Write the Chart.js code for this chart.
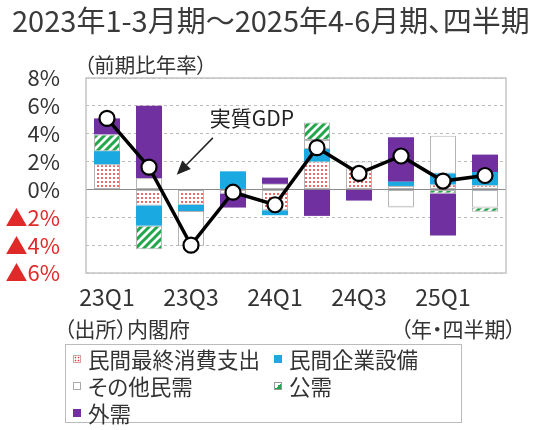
<!DOCTYPE html>
<html>
<head>
<meta charset="utf-8">
<script src="https://cdn.jsdelivr.net/npm/chart.js@4.4.1/dist/chart.umd.min.js"></script>
<style>
body { margin: 0; background: #fff; font-family: "Noto Sans CJK JP", sans-serif; color: #333; font-feature-settings: "palt"; }
#wrap { position: relative; width: 540px; height: 430px; overflow: hidden; }
#c { position: absolute; left: 0; top: 0; }
.t { position: absolute; white-space: nowrap; line-height: 1; }
#legend { position: absolute; left: 65px; top: 344px; width: 397px; height: 79px; border: 1px solid #bbb; box-sizing: border-box; }
.item { position: absolute; font-size: 21.5px; line-height: 1; white-space: nowrap; }
.icon { position: absolute; left: 0; top: 7px; width: 8px; height: 8px; box-sizing: border-box; }
.item span.lbl { position: absolute; left: 15px; top: 0; }
</style>
</head>
<body>
<div id="wrap">
  <canvas id="c" width="540" height="430"></canvas>
  <div class="t" style="left:12px;top:5px;font-size:29px;color:#3a3a3a">2023年1-3月期～2025年4-6月期、四半期</div>
  <div class="t" style="left:84px;top:54px;font-size:20.5px">（前期比年率）</div>
  <div class="t" style="left:64px;top:318px;font-size:21px">（出所）内閣府</div>
  <div class="t" style="right:24px;top:318px;font-size:21px">（年・四半期）</div>
  <div id="legend"></div>
</div>
<script>
// 四半期ラベル
const quarters = ['23Q1', '23Q2', '23Q3', '23Q4', '24Q1', '24Q2', '24Q3', '24Q4', '25Q1', '25Q2'];
// 寄与度（%ポイント）
const consumption = [1.8, -1.15, -1.1, 0, -1.5, 2.0, 1.5, 0.25, 0.35, 0.3];
const capex       = [0.95, -1.45, -0.45, 1.3, -0.35, 0.9, 0, 0.3, 0.8, 0.95];
const otherPriv   = [0, 0.8, -2.5, -0.3, 0.4, 0.65, 0.5, -1.25, 2.7, -1.3];
const publicDem   = [1.2, -1.7, 0, 0, 0, 1.25, 0, -0.05, -0.3, -0.3];
const external    = [1.15, 5.2, 0, -1.0, 0.45, -1.9, -0.8, 3.2, -3.0, 1.25];
// 実質GDP成長率
const realGdp     = [5.1, 1.6, -4.0, -0.2, -1.1, 3.0, 1.15, 2.4, 0.6, 1.0];
const seriesNames = ['民間最終消費支出', '民間企業設備', 'その他民需', '公需', '外需'];
const yTicks = [-6, -4, -2, 0, 2, 4, 6, 8];

const FONT = '"Noto Sans CJK JP", sans-serif';

function dotPattern() {
  const p = document.createElement('canvas');
  p.width = 4; p.height = 4;
  const g = p.getContext('2d');
  g.fillStyle = '#fff';
  g.fillRect(0, 0, 4, 4);
  g.fillStyle = '#e0383a';
  g.beginPath();
  g.arc(2, 2, 1.0, 0, Math.PI * 2);
  g.fill();
  return g.createPattern(p, 'repeat');
}

function stripePattern() {
  const s = 8;
  const p = document.createElement('canvas');
  p.width = s; p.height = s;
  const g = p.getContext('2d');
  g.fillStyle = '#fff';
  g.fillRect(0, 0, s, s);
  g.strokeStyle = '#22a64a';
  g.lineWidth = 3;
  g.beginPath();
  g.moveTo(0, s); g.lineTo(s, 0);
  g.moveTo(-s / 2, s / 2); g.lineTo(s / 2, -s / 2);
  g.moveTo(s / 2, s * 1.5); g.lineTo(s * 1.5, s / 2);
  g.stroke();
  return g.createPattern(p, 'repeat');
}

const blue = '#1ba9e1';
const purple = '#7030a0';
const edge = '#b4b4b4';

function barSet(label, data, fill, border) {
  return {
    type: 'bar',
    label: label,
    data: data,
    backgroundColor: fill,
    borderColor: edge,
    borderWidth: border ? 1 : 0,
    borderSkipped: false,
    categoryPercentage: 0.62,
    barPercentage: 1,
    order: 2
  };
}

const boxPlugin = {
  id: 'box',
  beforeDatasetsDraw(chart) {
    const { ctx, chartArea: a } = chart;
    ctx.save();
    ctx.strokeStyle = '#c4c4c4';
    ctx.lineWidth = 1.5;
    ctx.strokeRect(a.left, a.top, a.right - a.left, a.bottom - a.top);
    ctx.restore();
  }
};

const annotPlugin = {
  id: 'annot',
  afterDatasetsDraw(chart) {
    const { ctx, scales: { x, y } } = chart;
    ctx.save();
    ctx.fillStyle = '#222';
    ctx.font = '21px ' + FONT;
    ctx.textAlign = 'center';
    ctx.textBaseline = 'middle';
    ctx.fillText('実質GDP', x.getPixelForValue(3.45), y.getPixelForValue(5.1));

    const x0 = x.getPixelForValue(2.52), y0 = y.getPixelForValue(3.7);
    const x1 = x.getPixelForValue(1.66), y1 = y.getPixelForValue(1.05);
    const ang = Math.atan2(y1 - y0, x1 - x0);
    const len = 14, half = 6;
    const bx = x1 - len * Math.cos(ang), by = y1 - len * Math.sin(ang);
    ctx.strokeStyle = '#222';
    ctx.lineWidth = 1.5;
    ctx.beginPath();
    ctx.moveTo(x0, y0);
    ctx.lineTo(bx, by);
    ctx.stroke();
    ctx.beginPath();
    ctx.moveTo(x1, y1);
    ctx.lineTo(bx + half * Math.sin(ang), by - half * Math.cos(ang));
    ctx.lineTo(bx - half * Math.sin(ang), by + half * Math.cos(ang));
    ctx.closePath();
    ctx.fill();
    ctx.restore();
  }
};

const fills = [dotPattern(), blue, '#ffffff', stripePattern(), purple];
const borders = [true, false, true, true, false];
const seriesData = [consumption, capex, otherPriv, publicDem, external];

const datasets = seriesNames.map((n, i) => barSet(n, seriesData[i], fills[i], borders[i]));
datasets.push({
  type: 'line',
  label: '実質GDP',
  data: realGdp,
  stack: 'gdp',
  borderColor: '#000',
  borderWidth: 3.5,
  pointRadius: 7.5,
  pointBackgroundColor: '#fff',
  pointBorderColor: '#000',
  pointBorderWidth: 2.2,
  tension: 0,
  order: 0,
  clip: false
});

new Chart(document.getElementById('c'), {
  data: { labels: quarters, datasets: datasets },
  plugins: [boxPlugin, annotPlugin],
  options: {
    responsive: false,
    animation: false,
    events: [],
    layout: { padding: { top: 78, left: 0, right: 34, bottom: 117 } },
    plugins: { legend: { display: false }, tooltip: { enabled: false } },
    scales: {
      x: {
        stacked: true,
        grid: { display: false, drawTicks: false },
        border: { display: false },
        ticks: {
          autoSkip: false,
          maxRotation: 0,
          padding: 10,
          color: '#333',
          font: { family: FONT, size: 23 },
          callback: (v, i) => (i % 2 === 0 ? quarters[i] : '')
        },
        afterFit: s => { s.height = 40; }
      },
      y: {
        stacked: true,
        min: yTicks[0],
        max: yTicks[yTicks.length - 1],
        afterBuildTicks: s => { s.ticks = yTicks.map(v => ({ value: v })); },
        afterFit: s => { s.width = 86; },
        grid: {
          drawTicks: false,
          lineWidth: 1,
          color: c => (c.tick && c.tick.value === 0 ? '#8c8c8c' : '#bcbcbc')
        },
        border: {
          display: false,
          dash: c => (c.tick && c.tick.value !== 0 ? [3, 3] : [])
        },
        ticks: {
          autoSkip: false,
          padding: 26,
          font: { family: FONT, size: 22 },
          color: c => (c.tick.value < 0 ? '#e02a2a' : '#333'),
          callback: v => (v < 0 ? '▲' + (-v) + '%' : v + '%')
        }
      }
    }
  }
});

// 凡例（2列）
const iconCss = [
  'background:radial-gradient(circle,#e0383a 0.7px,transparent 1.1px) 0 0/3px 3px,#fff;border:1px solid #d8a0a0',
  'background:' + blue,
  'background:#fff;border:1px solid #aaa',
  'background:linear-gradient(to bottom right,#fff 50%,#22a64a 50%);border:1px solid #999',
  'background:' + purple
];
const legend = document.getElementById('legend');
seriesNames.forEach((n, i) => {
  const col = i % 2, row = Math.floor(i / 2);
  const d = document.createElement('div');
  d.className = 'item';
  d.style.left = (col === 0 ? 7 : 208) + 'px';
  d.style.top = (3 + row * 27) + 'px';
  d.innerHTML = '<div class="icon" style="' + iconCss[i] + '"></div><span class="lbl">' + n + '</span>';
  legend.appendChild(d);
});
</script>
</body>
</html>
